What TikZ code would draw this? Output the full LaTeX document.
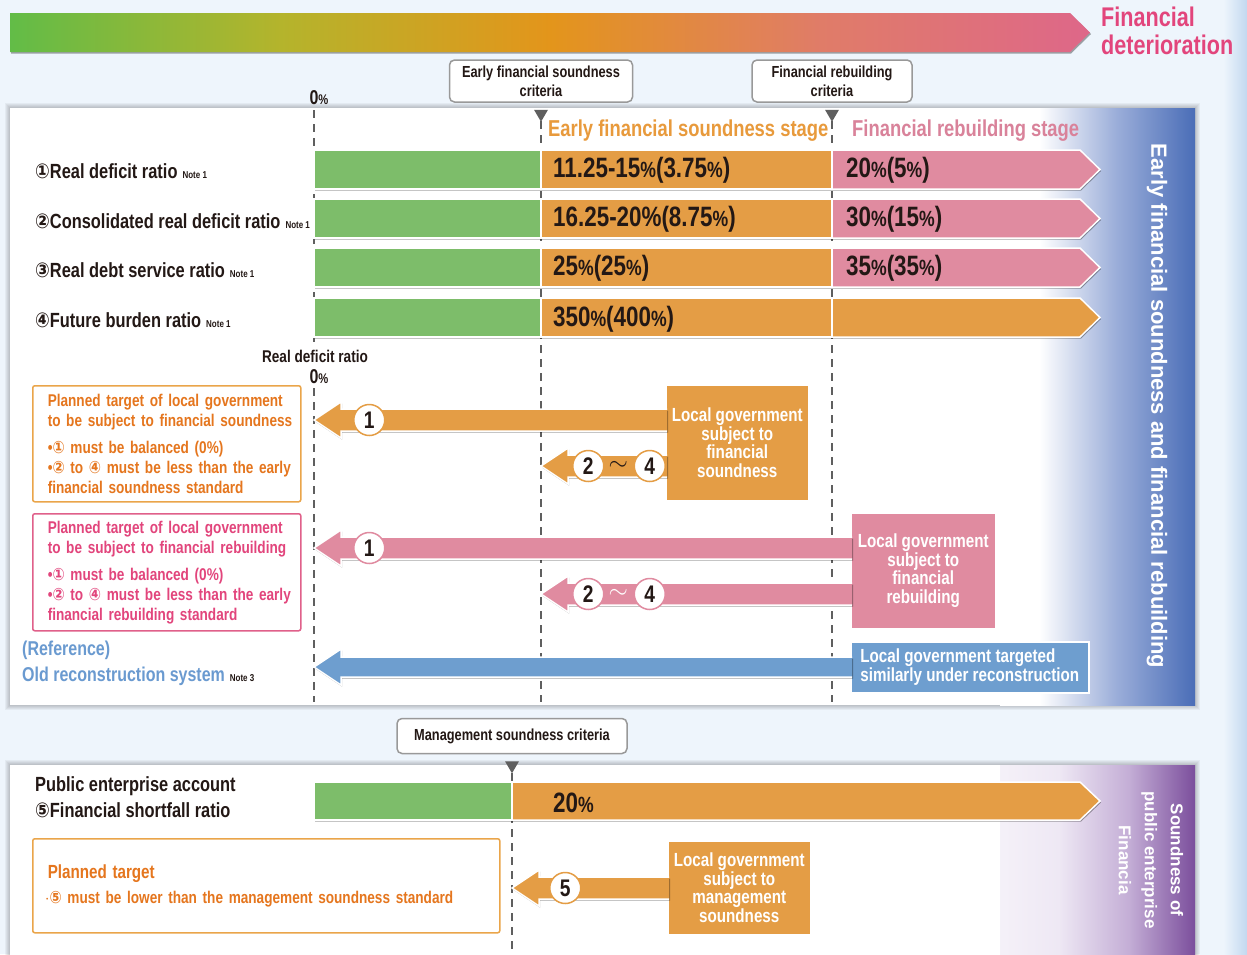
\documentclass[tikz,border=0pt]{standalone}
\usepackage{fontspec}
\setmainfont{Liberation Sans}[FakeStretch=0.8]
\newfontfamily\widefont{Liberation Sans}
\newfontfamily\symfont{DejaVu Sans}[FakeStretch=0.85]
\usetikzlibrary{positioning, shadows}

\definecolor{pagebg}{HTML}{EEF5FC}
\definecolor{stripblue}{HTML}{C2D8EF}
\definecolor{gradgreen}{HTML}{62BC47}
\definecolor{gradolive}{HTML}{B4B42C}
\definecolor{gradorange}{HTML}{E3951B}
\definecolor{gradsalmon}{HTML}{E07C68}
\definecolor{gradpink}{HTML}{DE6789}
\definecolor{bargreen}{HTML}{7DBD6A}
\definecolor{barorange}{HTML}{E49D45}
\definecolor{barpink}{HTML}{E08BA0}
\definecolor{barblue}{HTML}{6E9ECF}
\definecolor{inkdark}{HTML}{231815}
\definecolor{inkorange}{HTML}{E5761E}
\definecolor{inkpink}{HTML}{E2457C}
\definecolor{planorange}{HTML}{EAA54A}
\definecolor{planpink}{HTML}{E0608A}
\definecolor{stageorange}{HTML}{E89A3C}
\definecolor{stagepink}{HTML}{D9829A}
\definecolor{refblue}{HTML}{6A9AD0}
\definecolor{sideblue}{HTML}{4A6DB7}
\definecolor{sidebluelight}{HTML}{9AADD9}
\definecolor{sidepurple}{HTML}{7B4E9C}
\definecolor{sidepurplelight}{HTML}{C4AED6}
\definecolor{sidepurplepale}{HTML}{EEE8F4}
\definecolor{critgrey}{HTML}{999999}
\definecolor{linegrey}{HTML}{5F5F5F}

\pgfdeclarehorizontalshading{deterioration}{100bp}{color(0bp)=(gradgreen); color(25bp)=(gradgreen); color(37.5bp)=(gradolive); color(50bp)=(gradorange); color(62.5bp)=(gradsalmon); color(75bp)=(gradpink); color(100bp)=(gradpink)}
\pgfdeclarehorizontalshading{bluefade}{100bp}{color(0bp)=(white); color(35bp)=(white); color(55bp)=(sidebluelight); color(75bp)=(sideblue); color(100bp)=(sideblue)}
\pgfdeclarehorizontalshading{purplefade}{100bp}{color(0bp)=(white); color(40bp)=(sidepurplepale); color(58bp)=(sidepurplelight); color(75bp)=(sidepurple); color(100bp)=(sidepurple)}
\pgfdeclarehorizontalshading{edgestrip}{100bp}{color(0bp)=(pagebg); color(50bp)=(pagebg); color(75bp)=(stripblue); color(100bp)=(stripblue)}

\newcommand\pc[1][22]{{\fontsize{#1}{#1}\selectfont\%}}
\newcommand\noteref[1]{\hspace{5pt}{\color{inkdark}\fontsize{10}{10}\selectfont Note #1}}
\newcommand\fatarrow[4]{%
  \fill[#3, softshadow] (#1) -- ++(27,-18) -- ++(0,18-#4) -- ([xshift=2pt, yshift=#4pt]#2) -- ([xshift=2pt, yshift=-#4pt]#2) -- ([shift={(27,#4)}]#1) -- ++(0,18-#4) -- cycle;
  \draw[white, line width=1.5pt] ([xshift=2pt, yshift=#4pt]#2) -- ([shift={(27,-#4)}]#1) -- ++(0,#4-18) -- (#1) -- ([shift={(27,18)}]#1) -- ++(0,#4-18) -- ([xshift=2pt, yshift=-#4pt]#2);
}

\begin{document}
\begin{tikzpicture}[x=1pt, y=-1pt,
    every node/.style={inner sep=0pt},
    softshadow/.style={drop shadow={shadow xshift=1pt, shadow yshift=-1.5pt, opacity=0.35, fill=black}},
    rowlabel/.style={anchor=west, text=inkdark, align=left, font=\fontsize{20.5}{26}\selectfont\bfseries},
    barvalue/.style={anchor=west, text=inkdark, font=\fontsize{28}{28}\selectfont\bfseries},
    stagelabel/.style={anchor=west, font=\fontsize{23}{23}\selectfont\bfseries},
    zerolabel/.style={text=inkdark, font=\fontsize{20}{20}\selectfont\bfseries},
    critbox/.style={draw=critgrey, line width=1.5pt, fill=white, rounded corners=5pt, align=center, text=inkdark, font=\fontsize{16}{19}\selectfont\bfseries},
    critline/.style={linegrey, line width=1.4pt, dash pattern=on 8pt off 6pt},
    barcell/.style={draw=white, line width=1.5pt},
    planbox/.style={draw=#1, line width=1.5pt, fill=white, rounded corners=2pt, align=left, anchor=north west, font=\fontsize{17}{20}\selectfont\bfseries},
    govbox/.style={fill=#1, draw=white, line width=1.5pt, text=white, align=center, anchor=north west, font=\fontsize{19}{18.5}\selectfont\bfseries, softshadow},
    circnum/.style={circle, draw=#1, fill=white, line width=1.5pt, minimum size=31pt, text=inkdark, font=\fontsize{24}{24}\selectfont\bfseries},
    wave/.style={font=\fontsize{24}{24}\selectfont},
    sidetext/.style={rotate=-90, text=white, align=center, font=\widefont\fontsize{22}{22}\selectfont\bfseries}]
    \useasboundingbox (0,0) rectangle (1247,954);
    \fill[pagebg] (0,0) rectangle (1247,954);
    \shade[shading=edgestrip] (1200,0) rectangle (1247,954);

    % deterioration scale
    \shade[shading=deterioration, softshadow] (10,13) -- (1070,13) -- (1090,32.5) -- (1070,52) -- (10,52) -- cycle;
    \node[anchor=west, text=inkpink, align=left, font=\fontsize{27}{28}\selectfont\bfseries] (worse) at (1101,31) {Financial\\deterioration};

    % panels
    \foreach \g in {1,...,5} {
        \fill[black, opacity=0.045] (10-\g,108-\g) rectangle (1195+\g,705+\g);
        \fill[black, opacity=0.045] (10-\g,765-\g) rectangle (1195+\g,962);
    }
    \fill[white] (10,108) rectangle (1195,705);
    \shade[shading=bluefade] (1000,108) rectangle (1195,705);
    \fill[white] (10,765) rectangle (1195,962);
    \shade[shading=purplefade] (1000,765) rectangle (1195,962);

    \node[sidetext] (sideEarly) at (1157,406) {Early financial soundness and financial rebuilding};
    \node[sidetext, font=\widefont\fontsize{17}{26}\selectfont\bfseries] (sidePublic) at (1151,860) {Soundness of\\public enterprise\\Financia};

    % criteria
    \node[critbox, minimum width=183pt, minimum height=42pt] (earlyCrit) at (541,81) {Early financial soundness\\criteria};
    \node[critbox, minimum width=160pt, minimum height=42pt] (rebuildCrit) at (832,81) {Financial rebuilding\\criteria};
    \node[critbox, minimum width=230pt, minimum height=35pt] (mgmtCrit) at (512,736) {Management soundness criteria};
    \foreach \crit in {earlyCrit, rebuildCrit, mgmtCrit}
        \fill[linegrey] ([yshift=-7pt]\crit.south) -- +(-7pt,0) -- +(0,-12pt) -- +(7pt,0) -- cycle;

    \draw[critline] (314,110) -- (314,344);
    \draw[critline] (314,388) -- (314,702);
    \draw[critline] (541,121) -- (541,702);
    \draw[critline] (832,121) -- (832,702);
    \draw[critline] (512,773) -- (512,954);

    \node[zerolabel] (zeroTop) at (319,98) {0\pc[14]};
    \node[stagelabel, text=stageorange] (stageEarly) at (548,131) {Early financial soundness stage};
    \node[stagelabel, text=stagepink] (stageRebuild) at (852,131) {Financial rebuilding stage};

    % indicator bars
    \foreach \ytop/\tail in {150/barpink, 199/barpink, 248/barpink, 298/barorange} {
        \path[fill=white, softshadow] (314,\ytop) -- (1080,\ytop) -- (1100,\ytop+19.5) -- (1080,\ytop+39) -- (314,\ytop+39) -- cycle;
        \path[barcell, fill=\tail] (832,\ytop) -- (1080,\ytop) -- (1100,\ytop+19.5) -- (1080,\ytop+39) -- (832,\ytop+39) -- cycle;
        \path[barcell, fill=barorange] (541,\ytop) rectangle (832,\ytop+39);
        \path[barcell, fill=bargreen] (314,\ytop) rectangle (541,\ytop+39);
    }
    \node[rowlabel] (ratioA) at (35,171) {{\symfont ①}Real deficit ratio\noteref{1}};
    \node[rowlabel] (ratioB) at (35,221) {{\symfont ②}Consolidated real deficit ratio\noteref{1}};
    \node[rowlabel] (ratioC) at (35,270) {{\symfont ③}Real debt service ratio\noteref{1}};
    \node[rowlabel] (ratioD) at (35,320) {{\symfont ④}Future burden ratio\noteref{1}};
    \node[barvalue] (valA1) at (553,170) {11.25-15\pc(3.75\pc)};
    \node[barvalue] (valA2) at (846,170) {20\pc(5\pc)};
    \node[barvalue] (valB1) at (553,219) {16.25-20\%(8.75\pc)};
    \node[barvalue] (valB2) at (846,219) {30\pc(15\pc)};
    \node[barvalue] (valC1) at (553,268) {25\pc(25\pc)};
    \node[barvalue] (valC2) at (846,268) {35\pc(35\pc)};
    \node[barvalue] (valD1) at (553,319) {350\pc(400\pc)};

    \node[zerolabel, font=\fontsize{17}{17}\selectfont\bfseries] (realDefHead) at (315,356) {Real deficit ratio};
    \node[zerolabel] (zeroMid) at (319,377) {0\pc[14]};

    % planned targets
    \node[planbox=planorange, text=inkorange, minimum width=268pt, minimum height=116pt, text width=258pt] (soundPlan) at (32,385)
        {\leftskip=10pt Planned target of local government\\to be subject to financial soundness\\[7pt]\textbullet{\symfont ①} must be balanced (0\%)\\\textbullet{\symfont ②} to {\symfont ④} must be less than the early\\financial soundness standard\par};
    \node[planbox=planpink, text=inkpink, minimum width=268pt, minimum height=117pt, text width=258pt] (rebuildPlan) at (32,513)
        {\leftskip=10pt Planned target of local government\\to be subject to financial rebuilding\\[7pt]\textbullet{\symfont ①} must be balanced (0\%)\\\textbullet{\symfont ②} to {\symfont ④} must be less than the early\\financial rebuilding standard\par};
    \node[rowlabel, text=refblue, font=\fontsize{20}{26}\selectfont\bfseries] (refLabel) at (22,663) {(Reference)\\Old reconstruction system\noteref{3}};

    % subject governments
    \node[govbox=barorange, minimum width=143pt, minimum height=116pt] (soundGov) at (665,384) {Local government\\subject to\\financial\\soundness};
    \node[govbox=barpink, minimum width=145pt, minimum height=116pt] (rebuildGov) at (850,512) {Local government\\subject to\\financial\\rebuilding};
    \node[govbox=barblue, align=left, minimum width=238pt, minimum height=51pt] (reconGov) at (850,641) {Local government targeted\\similarly under reconstruction};

    \coordinate (tipO1) at (314,420);
    \coordinate (tipO2) at (541,466);
    \coordinate (tipP1) at (314,548);
    \coordinate (tipP2) at (541,594);
    \coordinate (tipB) at (314,667);
    \coordinate (endO1) at (soundGov.west |- tipO1);
    \coordinate (endO2) at (soundGov.west |- tipO2);
    \coordinate (endP1) at (rebuildGov.west |- tipP1);
    \coordinate (endP2) at (rebuildGov.west |- tipP2);
    \coordinate (endB) at (reconGov.west |- tipB);
    \fatarrow{tipO1}{endO1}{barorange}{11}
    \fatarrow{tipO2}{endO2}{barorange}{11}
    \fatarrow{tipP1}{endP1}{barpink}{11}
    \fatarrow{tipP2}{endP2}{barpink}{11}
    \fatarrow{tipB}{endB}{barblue}{10}

    \node[circnum=barorange, right=39pt of tipO1] (oneO) {1};
    \node[circnum=barorange, right=31pt of tipO2] (twoO) {2};
    \node[circnum=barorange, right=29pt of twoO] (fourO) {4};
    \node[wave, text=inkdark, right=4pt of twoO] (waveO) {$\sim$};
    \node[circnum=barpink, right=39pt of tipP1] (oneP) {1};
    \node[circnum=barpink, right=31pt of tipP2] (twoP) {2};
    \node[circnum=barpink, right=29pt of twoP] (fourP) {4};
    \node[wave, text=white, right=4pt of twoP] (waveP) {$\sim$};

    % public enterprise
    \node[rowlabel] (publicAcct) at (35,797) {Public enterprise account\\{\symfont ⑤}Financial shortfall ratio};
    \path[fill=white, softshadow] (314,782) -- (1080,782) -- (1100,801) -- (1080,820) -- (314,820) -- cycle;
    \path[barcell, fill=barorange] (512,782) -- (1080,782) -- (1100,801) -- (1080,820) -- (512,820) -- cycle;
    \path[barcell, fill=bargreen] (314,782) rectangle (512,820);
    \node[barvalue] (valE) at (553,803) {20\pc};

    \node[planbox=planorange, text=inkorange, minimum width=467pt, minimum height=94pt, text width=437pt] (mgmtPlan) at (32,838)
        {{\fontsize{19}{28}\selectfont Planned target}\\[5pt]\hspace{-3pt}$\cdot${\symfont ⑤} must be lower than the management soundness standard};
    \node[govbox=barorange, minimum width=143pt, minimum height=94pt] (mgmtGov) at (667,840) {Local government\\subject to\\management\\soundness};
    \coordinate (tipM) at (512,888);
    \coordinate (endM) at (mgmtGov.west |- tipM);
    \fatarrow{tipM}{endM}{barorange}{11}
    \node[circnum=barorange, right=37pt of tipM] (fiveO) {5};
\end{tikzpicture}
\end{document}
